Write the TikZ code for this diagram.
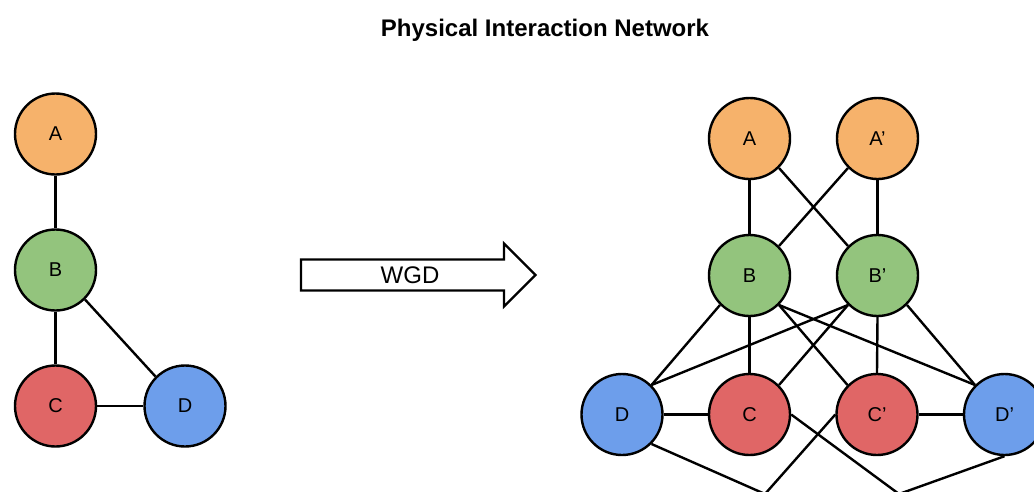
\documentclass[tikz,border=0pt]{standalone}
\usepackage{fontspec}
\setmainfont{Liberation Sans}
\definecolor{cOrange}{HTML}{F6B26B}
\definecolor{cGreen}{HTML}{93C47D}
\definecolor{cRed}{HTML}{E06666}
\definecolor{cBlue}{HTML}{6D9EEB}
\tikzset{
  gnode/.style={circle, draw=black, line width=2.4pt, minimum size=81pt, inner sep=0pt, font=\fontsize{20}{24}\selectfont},
  orangenode/.style={gnode, fill=cOrange},
  greennode/.style={gnode, fill=cGreen},
  rednode/.style={gnode, fill=cRed},
  bluenode/.style={gnode, fill=cBlue},
  edge/.style={draw=black, line width=2.4pt},
  bigarrow/.style={draw=black, line width=2.4pt, fill=white, line join=miter},
}
\begin{document}
\begin{tikzpicture}[x=1pt, y=-1pt]
\useasboundingbox (0,0) rectangle (1034,491);
\clip (0,0) rectangle (1034,491);
\fill[white] (0,0) rectangle (1034,491);

\node[anchor=base, font=\bfseries\fontsize{24}{28}\selectfont] (title) at (545,36.5) {Physical Interaction Network};

% left network
\node[orangenode] (lA) at (55.5,134) {A};
\node[greennode]  (lB) at (55.5,270) {B};
\node[rednode]    (lC) at (55.5,406) {C};
\node[bluenode]   (lD) at (185,406) {D};

% arrow
\draw[bigarrow] (301,259.5) -- (504,259.5) -- (504,243.5) -- (535.5,275) -- (504,306.5) -- (504,290.5) -- (301,290.5) -- cycle;
\node[font=\fontsize{24}{28}\selectfont] (wgd) at (410,275.5) {WGD};

% right network
\coordinate (p1) at (765,494);
\coordinate (p2) at (899,494);

\node[orangenode] (rA)  at (749.5,138.5) {A};
\node[orangenode] (rA2) at (877.5,138.5) {A’};
\node[greennode]  (rB)  at (749.5,275.5) {B};
\node[greennode]  (rB2) at (877.5,275.5) {B’};
\node[bluenode]   (rD)  at (622,414.5) {D};
\node[rednode]    (rC)  at (749.5,414.5) {C};
\node[rednode]    (rC2) at (877,414.5) {C’};
\node[bluenode]   (rD2) at (1004.5,414.5) {D’};

% left edges
\draw[edge] (lA.south) -- (lB.north);
\draw[edge] (lB.south) -- (lC.north);
\draw[edge] (lB.south east) -- (lD.north west);
\draw[edge] (lC.east) -- (lD.west);

% right edges
\draw[edge] (rA.south) -- (rB.north);
\draw[edge] (rA2.south) -- (rB2.north);
\draw[edge] (rA.south east) -- (rB2.north west);
\draw[edge] (rA2.south west) -- (rB.north east);
\draw[edge] (rB.south) -- (rC.north);
\draw[edge] (rB2.south) -- (rC2.north);
\draw[edge] (rB.south west) -- (rD.north east);
\draw[edge] (rB2.south west) -- (rD.north east);
\draw[edge] (rB.south east) -- (rC2.north west);
\draw[edge] (rB2.south west) -- (rC.north east);
\draw[edge] (rB.south east) -- (rD2.north west);
\draw[edge] (rB2.south east) -- (rD2.north west);
\draw[edge] (rD.east) -- (rC.west);
\draw[edge] (rC2.east) -- (rD2.west);
\draw[edge, line join=miter] (rD.south east) -- (p1) -- (rC2.west);
\draw[edge, line join=miter] (rC.east) -- (p2) -- (rD2.south);
\end{tikzpicture}
\end{document}
